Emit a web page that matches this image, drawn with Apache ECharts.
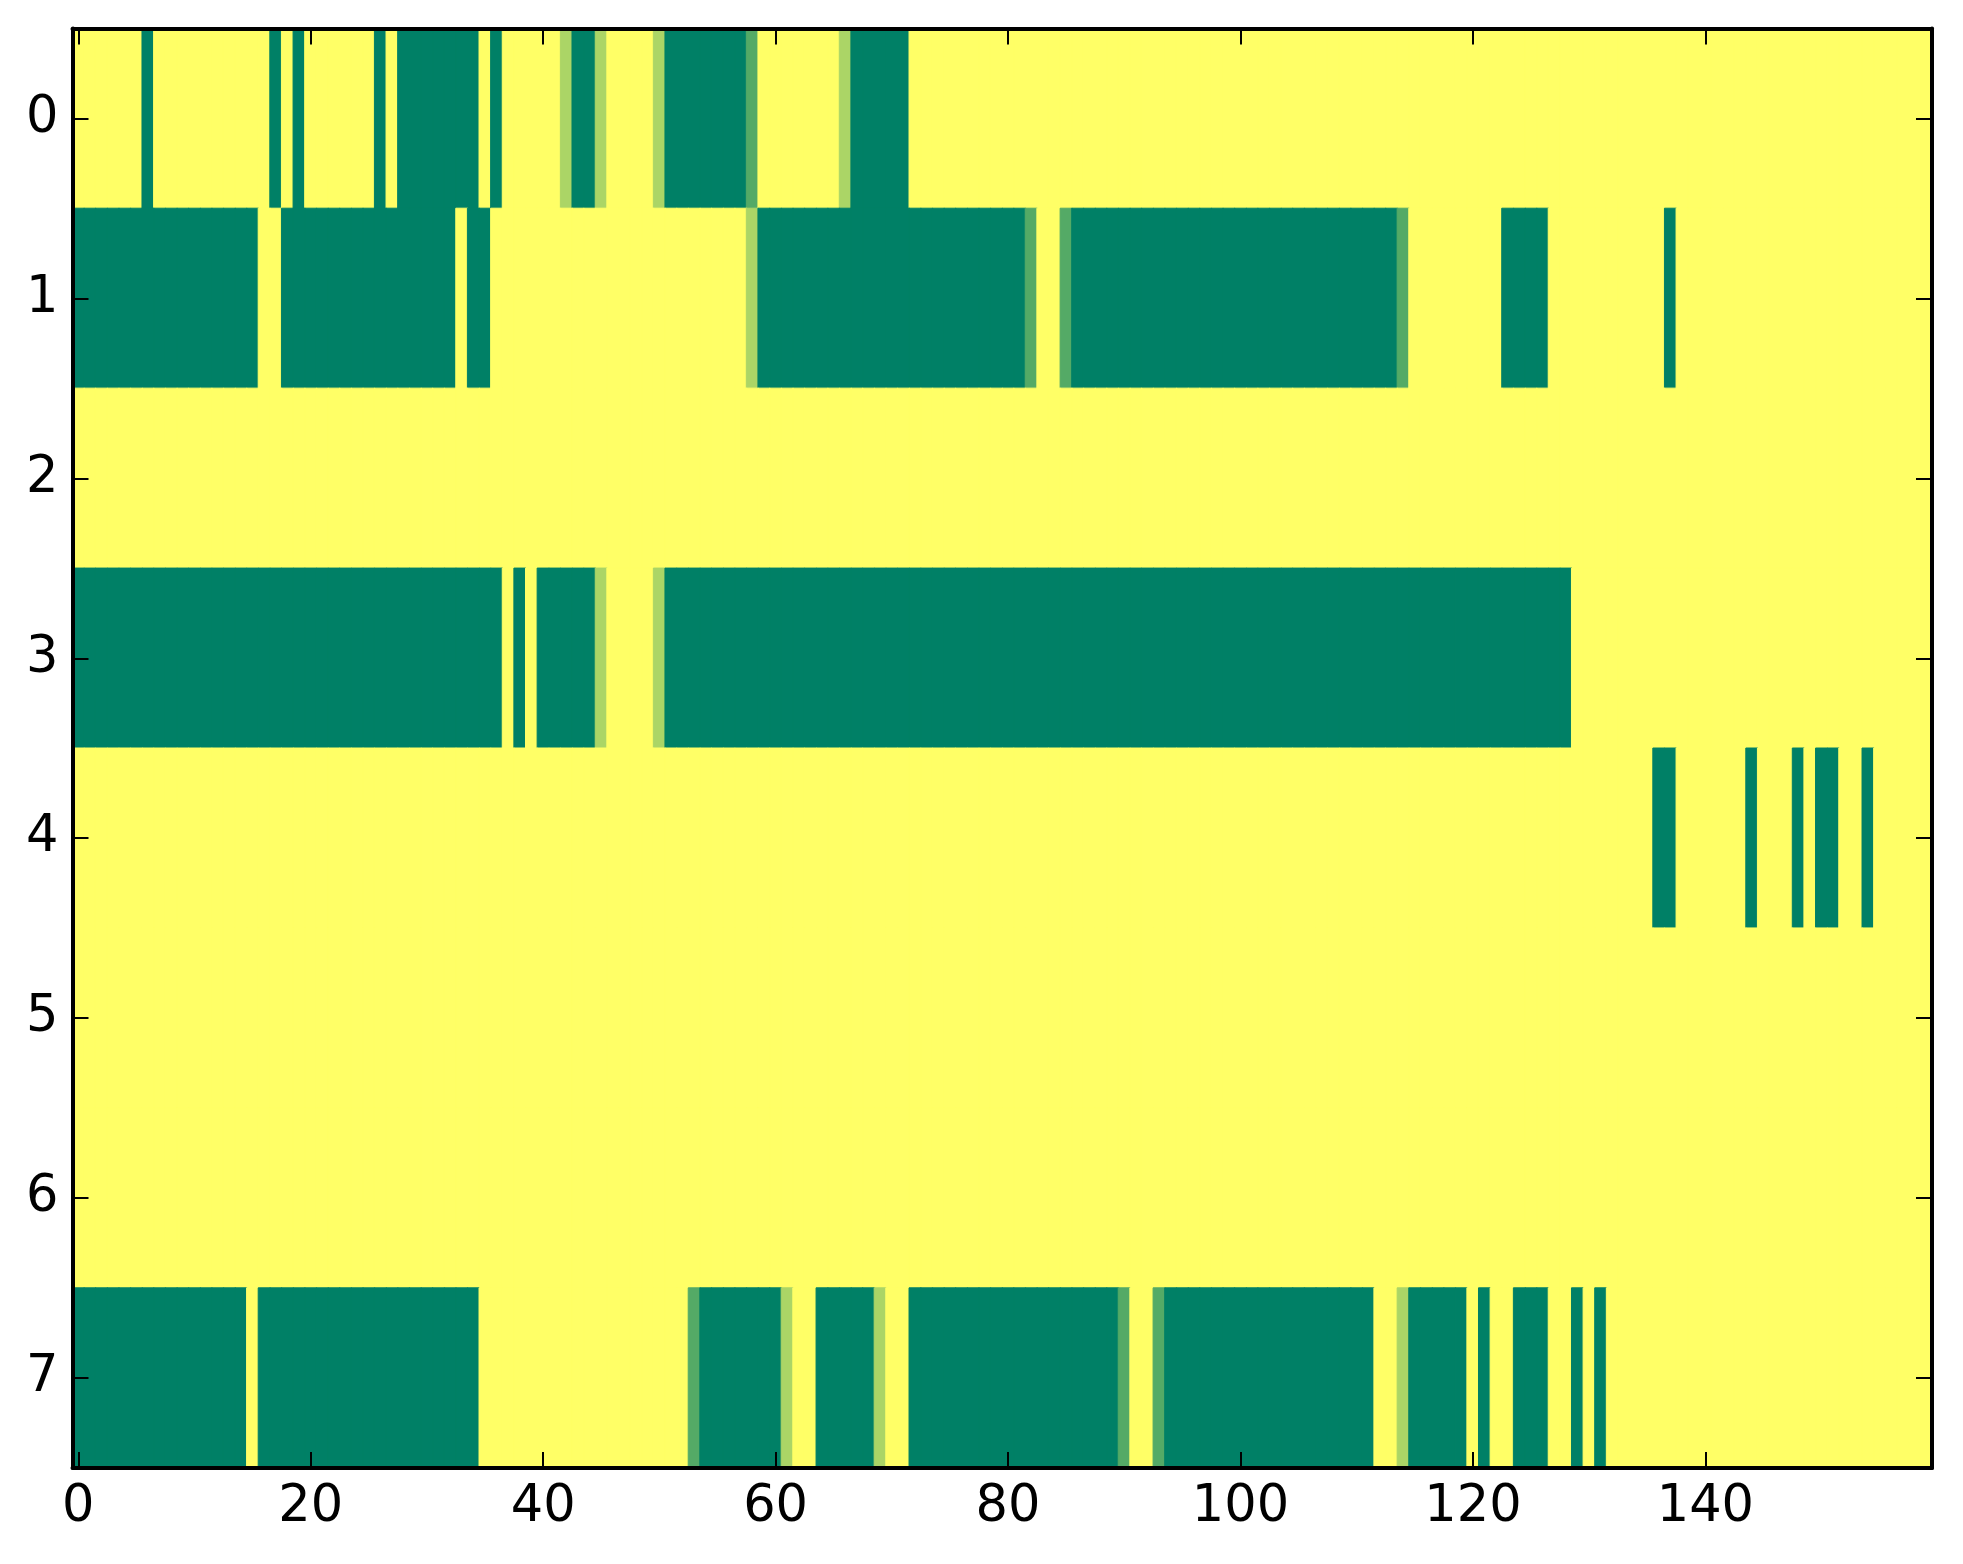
<!DOCTYPE html>
<html>
<head>
<meta charset="utf-8">
<script src="https://cdn.jsdelivr.net/npm/echarts@6/dist/echarts.min.js"></script>
<style>
html,body{margin:0;padding:0;background:#ffffff;}
#chart{width:1963px;height:1564px;}
</style>
</head>
<body>
<div id="chart"></div>
<script>
// Row labels (y axis, top to bottom)
const rowLabels = ['0','1','2','3','4','5','6','7'];
// Tick labels shown on the x axis
const xTickLabels = ['0','20','40','60','80','100','120','140'];
// Column categories 0..159
const columnLabels = Array.from({length:160}, (_, i) => String(i));

// Cell values per row (0 = green, 1 = yellow), 160 columns each
const row0 = [
  1,1,1,1,1,1,0,1,1,1, 1,1,1,1,1,1,1,0,1,0,
  1,1,1,1,1,1,0,1,0,0, 0,0,0,0,0,1,0,1,1,1,
  1,1,0.67,0,0,0.67,1,1,1,1, 0.67,0,0,0,0,0,0,0,0.33,1,
  1,1,1,1,1,1,0.67,0,0,0, 0,0,1,1,1,1,1,1,1,1,
  1,1,1,1,1,1,1,1,1,1, 1,1,1,1,1,1,1,1,1,1,
  1,1,1,1,1,1,1,1,1,1, 1,1,1,1,1,1,1,1,1,1,
  1,1,1,1,1,1,1,1,1,1, 1,1,1,1,1,1,1,1,1,1,
  1,1,1,1,1,1,1,1,1,1, 1,1,1,1,1,1,1,1,1,1
];
const row1 = [
  0,0,0,0,0,0,0,0,0,0, 0,0,0,0,0,0,1,1,0,0,
  0,0,0,0,0,0,0,0,0,0, 0,0,0,1,0,0,1,1,1,1,
  1,1,1,1,1,1,1,1,1,1, 1,1,1,1,1,1,1,1,0.67,0,
  0,0,0,0,0,0,0,0,0,0, 0,0,0,0,0,0,0,0,0,0,
  0,0,0.33,1,1,0.33,0,0,0,0, 0,0,0,0,0,0,0,0,0,0,
  0,0,0,0,0,0,0,0,0,0, 0,0,0,0,0.33,1,1,1,1,1,
  1,1,1,0,0,0,0,1,1,1, 1,1,1,1,1,1,1,0,1,1,
  1,1,1,1,1,1,1,1,1,1, 1,1,1,1,1,1,1,1,1,1
];
const row2 = [
  1,1,1,1,1,1,1,1,1,1, 1,1,1,1,1,1,1,1,1,1,
  1,1,1,1,1,1,1,1,1,1, 1,1,1,1,1,1,1,1,1,1,
  1,1,1,1,1,1,1,1,1,1, 1,1,1,1,1,1,1,1,1,1,
  1,1,1,1,1,1,1,1,1,1, 1,1,1,1,1,1,1,1,1,1,
  1,1,1,1,1,1,1,1,1,1, 1,1,1,1,1,1,1,1,1,1,
  1,1,1,1,1,1,1,1,1,1, 1,1,1,1,1,1,1,1,1,1,
  1,1,1,1,1,1,1,1,1,1, 1,1,1,1,1,1,1,1,1,1,
  1,1,1,1,1,1,1,1,1,1, 1,1,1,1,1,1,1,1,1,1
];
const row3 = [
  0,0,0,0,0,0,0,0,0,0, 0,0,0,0,0,0,0,0,0,0,
  0,0,0,0,0,0,0,0,0,0, 0,0,0,0,0,0,0,1,0,1,
  0,0,0,0,0,0.67,1,1,1,1, 0.67,0,0,0,0,0,0,0,0,0,
  0,0,0,0,0,0,0,0,0,0, 0,0,0,0,0,0,0,0,0,0,
  0,0,0,0,0,0,0,0,0,0, 0,0,0,0,0,0,0,0,0,0,
  0,0,0,0,0,0,0,0,0,0, 0,0,0,0,0,0,0,0,0,0,
  0,0,0,0,0,0,0,0,0,1, 1,1,1,1,1,1,1,1,1,1,
  1,1,1,1,1,1,1,1,1,1, 1,1,1,1,1,1,1,1,1,1
];
const row4 = [
  1,1,1,1,1,1,1,1,1,1, 1,1,1,1,1,1,1,1,1,1,
  1,1,1,1,1,1,1,1,1,1, 1,1,1,1,1,1,1,1,1,1,
  1,1,1,1,1,1,1,1,1,1, 1,1,1,1,1,1,1,1,1,1,
  1,1,1,1,1,1,1,1,1,1, 1,1,1,1,1,1,1,1,1,1,
  1,1,1,1,1,1,1,1,1,1, 1,1,1,1,1,1,1,1,1,1,
  1,1,1,1,1,1,1,1,1,1, 1,1,1,1,1,1,1,1,1,1,
  1,1,1,1,1,1,1,1,1,1, 1,1,1,1,1,1,0,0,1,1,
  1,1,1,1,0,1,1,1,0,1, 0,0,1,1,0,1,1,1,1,1
];
const row5 = [
  1,1,1,1,1,1,1,1,1,1, 1,1,1,1,1,1,1,1,1,1,
  1,1,1,1,1,1,1,1,1,1, 1,1,1,1,1,1,1,1,1,1,
  1,1,1,1,1,1,1,1,1,1, 1,1,1,1,1,1,1,1,1,1,
  1,1,1,1,1,1,1,1,1,1, 1,1,1,1,1,1,1,1,1,1,
  1,1,1,1,1,1,1,1,1,1, 1,1,1,1,1,1,1,1,1,1,
  1,1,1,1,1,1,1,1,1,1, 1,1,1,1,1,1,1,1,1,1,
  1,1,1,1,1,1,1,1,1,1, 1,1,1,1,1,1,1,1,1,1,
  1,1,1,1,1,1,1,1,1,1, 1,1,1,1,1,1,1,1,1,1
];
const row6 = [
  1,1,1,1,1,1,1,1,1,1, 1,1,1,1,1,1,1,1,1,1,
  1,1,1,1,1,1,1,1,1,1, 1,1,1,1,1,1,1,1,1,1,
  1,1,1,1,1,1,1,1,1,1, 1,1,1,1,1,1,1,1,1,1,
  1,1,1,1,1,1,1,1,1,1, 1,1,1,1,1,1,1,1,1,1,
  1,1,1,1,1,1,1,1,1,1, 1,1,1,1,1,1,1,1,1,1,
  1,1,1,1,1,1,1,1,1,1, 1,1,1,1,1,1,1,1,1,1,
  1,1,1,1,1,1,1,1,1,1, 1,1,1,1,1,1,1,1,1,1,
  1,1,1,1,1,1,1,1,1,1, 1,1,1,1,1,1,1,1,1,1
];
const row7 = [
  0,0,0,0,0,0,0,0,0,0, 0,0,0,0,0,1,0,0,0,0,
  0,0,0,0,0,0,0,0,0,0, 0,0,0,0,0,1,1,1,1,1,
  1,1,1,1,1,1,1,1,1,1, 1,1,1,0.33,0,0,0,0,0,0,
  0,0.67,1,1,0,0,0,0,0,0.67, 1,1,0,0,0,0,0,0,0,0,
  0,0,0,0,0,0,0,0,0,0, 0.33,1,1,0.33,0,0,0,0,0,0,
  0,0,0,0,0,0,0,0,0,0, 0,0,1,1,0.67,0,0,0,0,0,
  1,0,1,1,0,0,0,1,1,0, 1,0,1,1,1,1,1,1,1,1,
  1,1,1,1,1,1,1,1,1,1, 1,1,1,1,1,1,1,1,1,1
];

const rows = [row0, row1, row2, row3, row4, row5, row6, row7];

// matplotlib "summer" colormap: r = v, g = 0.5 + v/2, b = 0.4
function summer(v) {
  const r = Math.round(255 * v);
  const g = Math.round(255 * (0.5 + v / 2));
  const b = Math.round(255 * 0.4);
  return 'rgb(' + r + ',' + g + ',' + b + ')';
}

const cells = [];
rows.forEach((r, y) => r.forEach((v, x) => {
  const c = summer(v);
  cells.push({ value: [x, y, v], itemStyle: { color: c, borderColor: c, borderWidth: 1 } });
}));

const FONT = 'DejaVu Sans';
const showTick = (idx, val) => xTickLabels.indexOf(String(val)) >= 0;

const axisLine = { show: true, onZero: false, lineStyle: { color: '#000', width: 4 } };
const tickStyle = { color: '#000', width: 2 };

const chart = echarts.init(document.getElementById('chart'), null, { renderer: 'canvas' });
chart.setOption({
  animation: false,
  backgroundColor: '#ffffff',
  grid: { left: 72.5, top: 28.5, width: 1859.5, height: 1439.5, containLabel: false },
  xAxis: [
    {
      type: 'category', data: columnLabels, position: 'bottom', boundaryGap: true, z: 10,
      axisLine: axisLine,
      axisTick: { show: true, inside: true, length: 16, alignWithLabel: true, interval: showTick, lineStyle: tickStyle },
      axisLabel: { show: true, interval: showTick, fontSize: 51, fontFamily: FONT, color: '#000', margin: 14 },
      splitLine: { show: false }
    },
    {
      type: 'category', data: columnLabels, position: 'top', boundaryGap: true, z: 10,
      axisLine: axisLine,
      axisTick: { show: true, inside: true, length: 16, alignWithLabel: true, interval: showTick, lineStyle: tickStyle },
      axisLabel: { show: false },
      splitLine: { show: false }
    }
  ],
  yAxis: [
    {
      type: 'category', data: rowLabels, inverse: true, position: 'left', boundaryGap: true, z: 10,
      axisLine: axisLine,
      axisTick: { show: true, inside: true, length: 16, alignWithLabel: true, interval: 0, lineStyle: tickStyle },
      axisLabel: { show: true, interval: 0, fontSize: 51, fontFamily: FONT, color: '#000', margin: 14 },
      splitLine: { show: false }
    },
    {
      type: 'category', data: rowLabels, inverse: true, position: 'right', boundaryGap: true, z: 10,
      axisLine: axisLine,
      axisTick: { show: true, inside: true, length: 16, alignWithLabel: true, interval: 0, lineStyle: tickStyle },
      axisLabel: { show: false },
      splitLine: { show: false }
    }
  ],
  series: [{
    type: 'heatmap', xAxisIndex: 0, yAxisIndex: 0, data: cells,
    emphasis: { disabled: true },
    progressive: 0
  }]
});
</script>
</body>
</html>
